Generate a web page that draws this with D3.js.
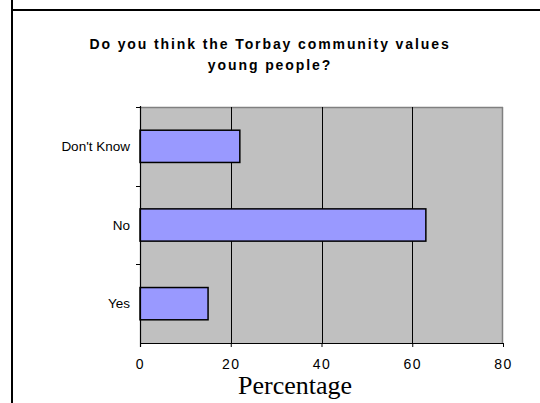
<!DOCTYPE html>
<html><head><meta charset="utf-8">
<script src="https://cdn.jsdelivr.net/npm/d3@7"></script>
<style>body{margin:0;background:#fff;}svg{display:block;}</style>
</head><body>
<script>
const categories = ["Don't Know", "No", "Yes"];
const values = [22, 63, 15];
const xTicks = [0, 20, 40, 60, 80];
const titleLines = ["Do you think the Torbay community values", "young people?"];
const xTitle = "Percentage";

const W = 540, H = 403;
const svg = d3.select("body").append("svg").attr("width", W).attr("height", H);
svg.append("rect").attr("width", W).attr("height", H).attr("fill", "#fff");

// outer frame lines
svg.append("line").attr("x1", 12).attr("x2", 12).attr("y1", 0).attr("y2", H).attr("stroke", "#000").attr("stroke-width", 2);
svg.append("line").attr("x1", 11).attr("x2", W).attr("y1", 10).attr("y2", 10).attr("stroke", "#000").attr("stroke-width", 2);

const L = 140, R = 503, T = 107, B = 343;
const x = d3.scaleLinear().domain([0, 80]).range([L, R]);
const y = d3.scaleBand().domain(categories).range([T, B]).paddingInner(0.59).paddingOuter(0.295);

// plot background
svg.append("rect").attr("x", L).attr("y", T).attr("width", R - L).attr("height", B - T).attr("fill", "#c0c0c0");
svg.append("line").attr("x1", L).attr("x2", R).attr("y1", T + 0.5).attr("y2", T + 0.5).attr("stroke", "#808080").attr("stroke-width", 1.5);
svg.append("line").attr("x1", R - 0.5).attr("x2", R - 0.5).attr("y1", T).attr("y2", B).attr("stroke", "#808080").attr("stroke-width", 1.5);

// gridlines
svg.append("g").selectAll("line").data(xTicks.filter(d => d > 0 && d < 80)).join("line")
  .attr("x1", d => Math.round(x(d)) + 0.5).attr("x2", d => Math.round(x(d)) + 0.5)
  .attr("y1", T).attr("y2", B).attr("stroke", "#000").attr("stroke-width", 1);

// bars
svg.append("g").selectAll("rect").data(categories).join("rect")
  .attr("x", x(0)).attr("y", d => y(d))
  .attr("width", (d, i) => x(values[i]) - x(0)).attr("height", y.bandwidth())
  .attr("fill", "#9999ff").attr("stroke", "#000").attr("stroke-width", 1.5);

// x axis
const xAxis = d3.axisBottom(x).tickValues(xTicks).tickSize(4).tickPadding(12);
const gx = svg.append("g").attr("transform", `translate(0,${B})`).call(xAxis);
gx.select(".domain").attr("stroke", "#000").attr("stroke-width", 1.2).attr("d", `M${L},0.5H${R}`);
gx.selectAll("text").attr("font-family", "Arial, 'Liberation Sans', sans-serif").attr("font-size", 14)
  .attr("letter-spacing", "1.5px").attr("fill", "#000");

// y axis with ticks at band boundaries
const gy = svg.append("g");
gy.append("line").attr("x1", L + 0.5).attr("x2", L + 0.5).attr("y1", T - 1).attr("y2", B + 4).attr("stroke", "#000").attr("stroke-width", 1.2);
const bounds = d3.range(categories.length + 1).map(i => T + i * (B - T) / categories.length);
gy.selectAll("line.tk").data(bounds.slice(0, -1)).join("line").attr("class", "tk")
  .attr("x1", L - 4).attr("x2", L).attr("y1", d => Math.round(d) + 0.5).attr("y2", d => Math.round(d) + 0.5)
  .attr("stroke", "#000").attr("stroke-width", 1);
gy.selectAll("text").data(categories).join("text")
  .attr("x", L - 10).attr("y", d => y(d) + y.bandwidth() / 2).attr("dy", "0.35em")
  .attr("text-anchor", "end").attr("font-family", "Arial, 'Liberation Sans', sans-serif").attr("font-size", 13.5)
  .text(d => d);

// title
svg.append("g").selectAll("text").data(titleLines).join("text")
  .attr("x", 270).attr("y", (d, i) => 49 + i * 21).attr("text-anchor", "middle")
  .attr("font-family", "Arial, 'Liberation Sans', sans-serif").attr("font-weight", "bold").attr("font-size", 14)
  .attr("letter-spacing", "1.9px").text(d => d);

// x title
svg.append("text").attr("x", 295).attr("y", 394).attr("text-anchor", "middle")
  .attr("font-family", "'Times New Roman', 'Liberation Serif', serif").attr("font-size", 26).text(xTitle);
</script>
</body></html>
